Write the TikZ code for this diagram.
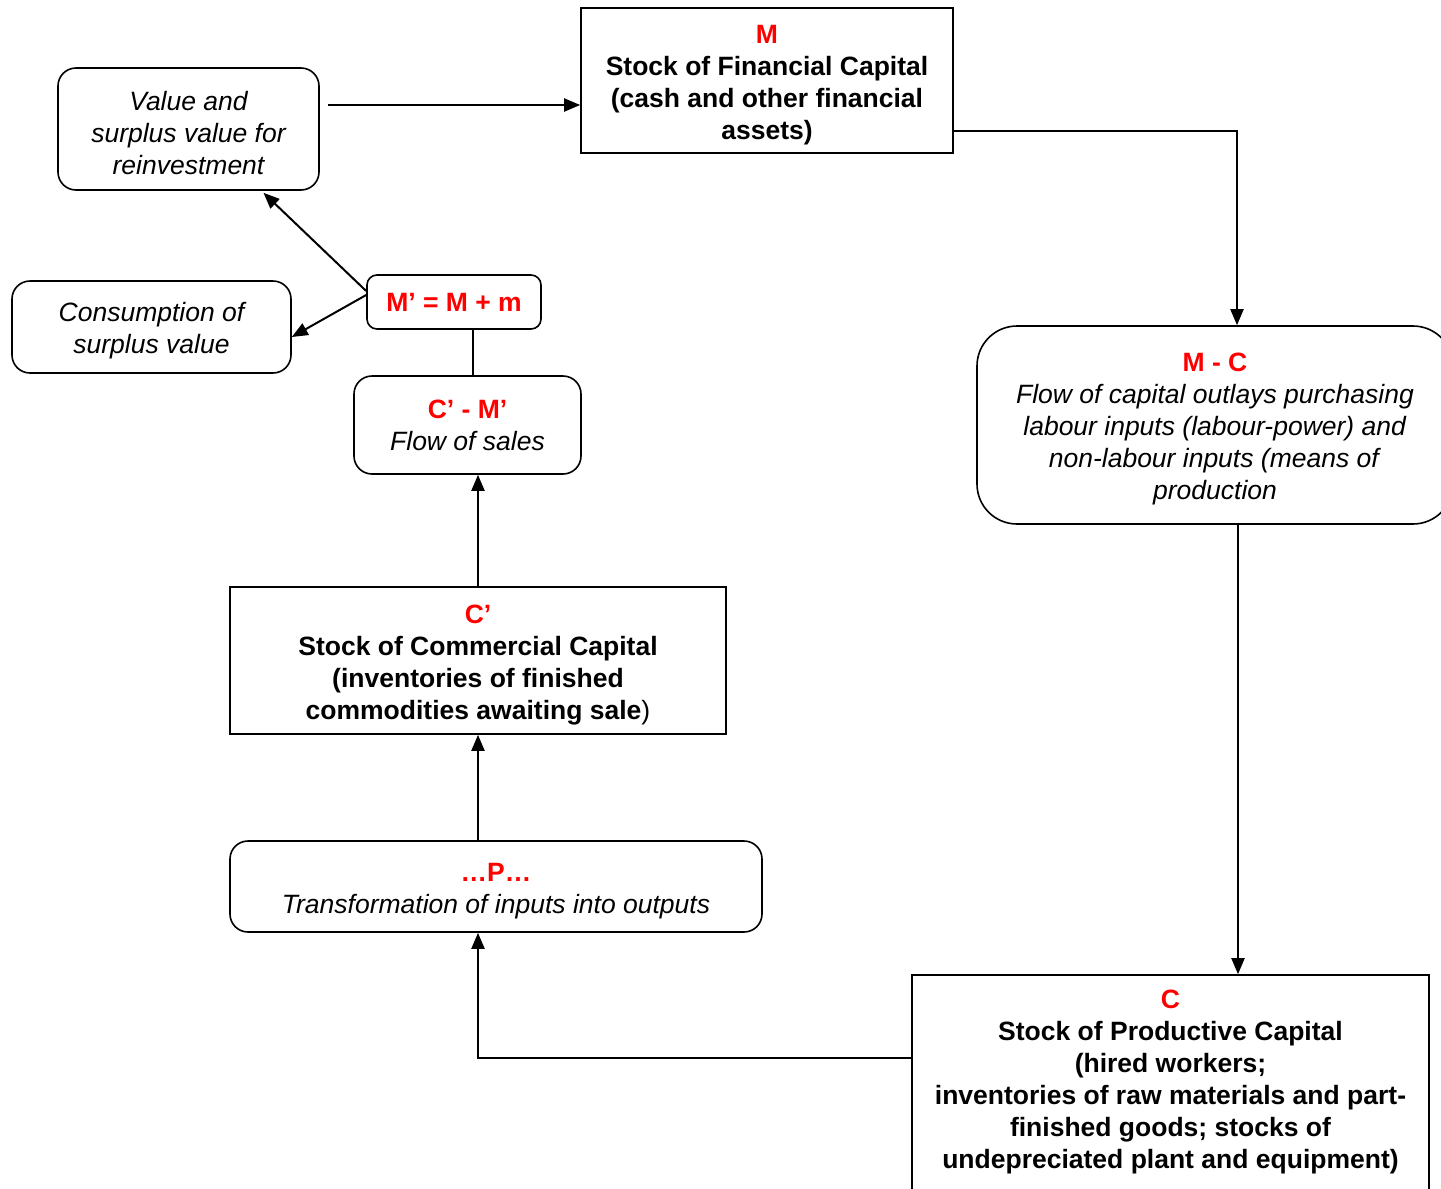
\documentclass[tikz,border=0pt]{standalone}
\usepackage{fontspec}
\setmainfont{Liberation Sans}
\usetikzlibrary{arrows.meta}
\definecolor{capred}{RGB}{255,0,0}
\newcommand\tstrut{\rule{0pt}{27pt}}
\begin{document}
\begin{tikzpicture}[x=1pt,y=-1pt,
  box/.style={draw, line width=1.6pt, align=center, inner sep=0pt,
    font=\fontsize{26.5}{32}\selectfont},
  rbox/.style={box, rounded corners=18pt},
  arr/.style={line width=2pt, -{Triangle[length=16pt,width=13pt]}},
  lnk/.style={line width=1.6pt}
]
\useasboundingbox (0,0) rectangle (1441,1189);

\node[box, minimum width=372pt, minimum height=145pt, font=\fontsize{26.5}{32}\selectfont\bfseries] (M) at (767,80.5)
  {\tstrut{\color{capred}M}\\Stock of Financial Capital\\(cash and other financial\\assets)};
\node[rbox, minimum width=261pt, minimum height=122pt, font=\fontsize{26.5}{32}\selectfont\itshape] (Value) at (188.5,129)
  {\tstrut Value and\\surplus value for\\reinvestment};
\node[rbox, minimum width=279pt, minimum height=92pt, font=\fontsize{26.5}{32}\selectfont\itshape] (Cons) at (151.5,327)
  {\tstrut Consumption of\\surplus value};
\node[rbox, rounded corners=10pt, minimum width=174pt, minimum height=54pt, font=\fontsize{26.5}{32}\selectfont\bfseries, text=capred] (Mp) at (454,302)
  {M’ = M + m};
\node[rbox, minimum width=227pt, minimum height=98pt] (CM) at (467.5,425)
  {{\color{capred}\bfseries C’ - M’}\\\textit{Flow of sales}};
\node[rbox, rounded corners=40pt, minimum width=476pt, minimum height=198pt] (MC) at (1215,425)
  {\tstrut{\color{capred}\bfseries M - C}\\\textit{Flow of capital outlays purchasing}\\\textit{labour inputs (labour-power) and}\\\textit{non-labour inputs (means of}\\\textit{production}};
\node[box, minimum width=496pt, minimum height=147pt] (Cp) at (478,660.5)
  {\tstrut{\color{capred}\bfseries C’}\\\textbf{Stock of Commercial Capital}\\\textbf{(inventories of finished}\\\textbf{commodities awaiting sale})};
\node[rbox, minimum width=532pt, minimum height=91pt] (P) at (496,886.5)
  {\tstrut{\color{capred}\bfseries …P…}\\\textit{Transformation of inputs into outputs}};
\node[box, minimum width=517pt, minimum height=232pt, font=\fontsize{26.5}{32}\selectfont\bfseries] (C) at (1170.5,1091)
  {\tstrut{\color{capred}C}\\Stock of Productive Capital\\(hired workers;\\inventories of raw materials and part-\\finished goods; stocks of\\undepreciated plant and equipment)\\\mbox{}};

\draw[arr] ([xshift=8pt,yshift=24pt]Value.east) -- ([yshift=24pt]Value.east -| M.west);
\draw[arr] ([yshift=-50.5pt]M.east) -| ([xshift=22pt]MC.north);
\draw[arr] ([xshift=23pt]MC.south) -- ([xshift=23pt]MC.south |- C.north);
\draw[arr] ([yshift=33pt]C.west) -| (Cp.south |- P.south);
\draw[arr] (Cp.south |- P.north) -- (Cp.south);
\draw[arr] (Cp.north) -- (Cp.north |- CM.south);
\draw[lnk] ([xshift=5.5pt]CM.north) -- ([xshift=5.5pt]CM.north |- Mp.south);
\draw[arr] ([yshift=11pt]Mp.west) -- ([xshift=75pt,yshift=-2pt]Value.south);
\draw[arr] ([yshift=7pt]Mp.west) -- ([yshift=-10pt]Cons.east);
\end{tikzpicture}
\end{document}
